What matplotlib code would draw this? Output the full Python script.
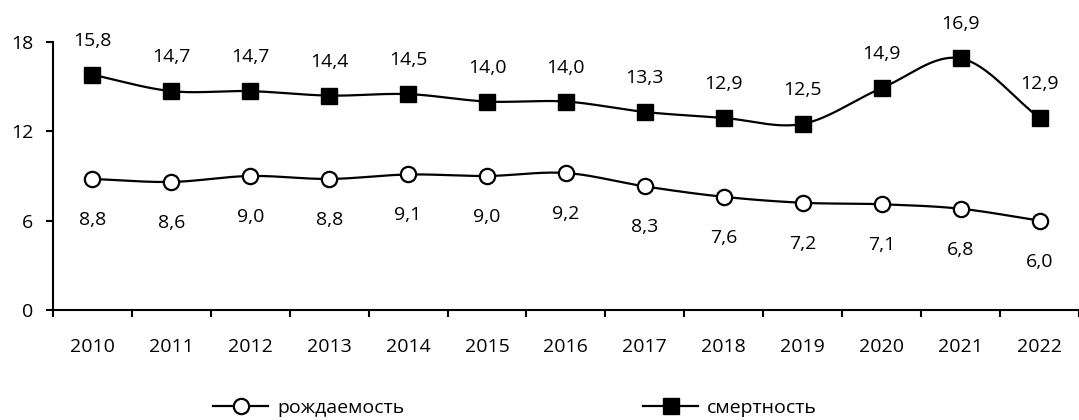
import numpy as np
import matplotlib
matplotlib.use("Agg")
import matplotlib.pyplot as plt
from matplotlib.lines import Line2D

years = ["2010", "2011", "2012", "2013", "2014", "2015", "2016",
         "2017", "2018", "2019", "2020", "2021", "2022"]
births = [8.8, 8.6, 9.0, 8.8, 9.1, 9.0, 9.2, 8.3, 7.6, 7.2, 7.1, 6.8, 6.0]
deaths = [15.8, 14.7, 14.7, 14.4, 14.5, 14.0, 14.0, 13.3, 12.9, 12.5, 14.9, 16.9, 12.9]
yticks = [0, 6, 12, 18]

plt.rcParams['font.family'] = ['Open Sans', 'DejaVu Sans']
FS = 14


def smooth(x, y, n=20):
    x = np.asarray(x, float)
    y = np.asarray(y, float)
    xs, ys = [], []
    for i in range(len(x) - 1):
        p0 = (x[i - 1], y[i - 1]) if i > 0 else (2 * x[i] - x[i + 1], 2 * y[i] - y[i + 1])
        p1 = (x[i], y[i])
        p2 = (x[i + 1], y[i + 1])
        p3 = (x[i + 2], y[i + 2]) if i + 2 < len(x) else (2 * x[i + 1] - x[i], 2 * y[i + 1] - y[i])
        t = np.linspace(0, 1, n, endpoint=(i == len(x) - 2))
        for k in range(2):
            a0, a1, a2, a3 = p0[k], p1[k], p2[k], p3[k]
            v = 0.5 * ((2 * a1) + (-a0 + a2) * t + (2 * a0 - 5 * a1 + 4 * a2 - a3) * t ** 2
                       + (-a0 + 3 * a1 - 3 * a2 + a3) * t ** 3)
            (xs if k == 0 else ys).append(v)
    return np.concatenate(xs), np.concatenate(ys)


fig = plt.figure(figsize=(10.79, 4.2), dpi=100)
ax = fig.add_axes([0.049, 0.262, 0.951, 0.638])
x = np.arange(len(years))

sx, sy = smooth(x, births)
ax.plot(sx, sy, color='black', lw=1.6, clip_on=False, zorder=2)
ax.plot(x, births, ls='none', marker='o', ms=11, mfc='white', mec='black', mew=1.6,
        clip_on=False, zorder=3)
sx, sy = smooth(x, deaths)
ax.plot(sx, sy, color='black', lw=1.6, clip_on=False, zorder=2)
ax.plot(x, deaths, ls='none', marker='s', ms=12, mfc='black', mec='black',
        clip_on=False, zorder=3)

fmt = lambda v: f"{v:.1f}".replace('.', ',')
for xi, b, d in zip(x, births, deaths):
    ax.annotate(fmt(b), (xi, b), xytext=(0, -23), textcoords='offset points',
                ha='center', va='top', fontsize=FS, annotation_clip=False)
    ax.annotate(fmt(d), (xi, d), xytext=(0, 18), textcoords='offset points',
                ha='center', va='bottom', fontsize=FS, annotation_clip=False)

ax.set_xlim(-0.5, len(years) - 0.5)
ax.set_ylim(0, 18)
ax.set_yticks(yticks)
ax.set_yticklabels([str(t) for t in yticks], fontsize=FS)
ax.set_xticks(x)
ax.set_xticklabels(years, fontsize=FS)
ax.set_xticks(np.arange(-0.5, len(years), 1), minor=True)
ax.tick_params(axis='x', which='major', length=0, pad=20)
ax.tick_params(axis='x', which='minor', length=5, width=1.5, direction='out')
ax.tick_params(axis='y', length=5, width=1.5, direction='out', pad=9)
for s in ['top', 'right']:
    ax.spines[s].set_visible(False)
for s in ['left', 'bottom']:
    ax.spines[s].set_linewidth(1.5)

h1 = Line2D([], [], color='black', lw=1.6, marker='o', ms=11, mfc='white', mec='black', mew=1.6)
h2 = Line2D([], [], color='black', lw=1.6, marker='s', ms=12, mfc='black', mec='black')
common = dict(loc='center left', frameon=False, fontsize=FS, handlelength=2.84,
              handletextpad=0.46, borderaxespad=0, borderpad=0)
fig.legend([h1], ['рождаемость'], bbox_to_anchor=(0.1974, 0.0286), **common)
fig.legend([h2], ['смертность'], bbox_to_anchor=(0.5959, 0.0286), **common)

fig.savefig('out.png', dpi=100)
